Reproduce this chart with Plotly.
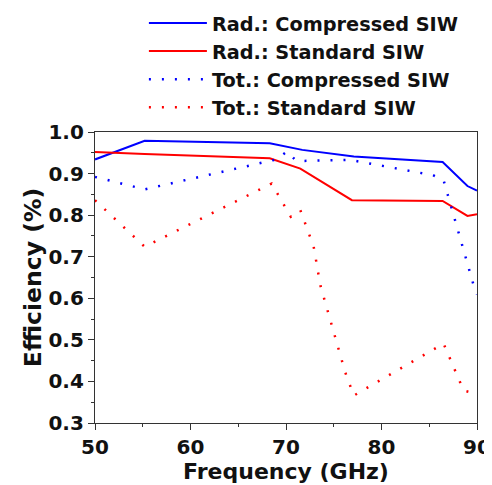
import plotly.graph_objects as go

rad_comp_f = [50, 55.2, 68.3, 70.1, 71.7, 77.1, 86.4, 89.0, 90]
rad_comp_e = [0.934, 0.979, 0.973, 0.965, 0.957, 0.941, 0.928, 0.870, 0.859]

rad_std_f = [50, 55.2, 68.3, 69.8, 71.5, 76.9, 86.4, 89.0, 90]
rad_std_e = [0.952, 0.947, 0.937, 0.925, 0.912, 0.836, 0.834, 0.798, 0.802]

tot_comp_f = [50, 55.2, 69.0, 70.1, 71.1, 76.7, 85.4, 86.5, 87.2, 88.7, 89.8, 90]
tot_comp_e = [0.892, 0.862, 0.934, 0.953, 0.930, 0.933, 0.896, 0.884, 0.828, 0.708, 0.619, 0.61]

tot_std_f = [50, 55.2, 68.5, 69.4, 70.5, 71.5, 72.9, 73.6, 75.1, 76.2, 77.1, 86.5, 88.6, 89.6, 90]
tot_std_e = [0.836, 0.724, 0.876, 0.840, 0.796, 0.812, 0.724, 0.631, 0.511, 0.422, 0.366, 0.491, 0.378, 0.372, 0.375]

x_ticks = [50, 60, 70, 80, 90]
y_ticks = [0.3, 0.4, 0.5, 0.6, 0.7, 0.8, 0.9, 1.0]

BLUE = "#0000ff"
RED = "#ff0000"
FONT = "DejaVu Sans, Liberation Sans, Arial, sans-serif"
TXT = "#111111"

fig = go.Figure()
fig.add_trace(go.Scatter(x=rad_comp_f, y=rad_comp_e, mode="lines", name="<b>Rad.: Compressed SIW</b>",
                         line=dict(color=BLUE, width=2)))
fig.add_trace(go.Scatter(x=rad_std_f, y=rad_std_e, mode="lines", name="<b>Rad.: Standard SIW</b>",
                         line=dict(color=RED, width=2)))
fig.add_trace(go.Scatter(x=tot_comp_f, y=tot_comp_e, mode="lines", name="<b>Tot.: Compressed SIW</b>",
                         line=dict(color=BLUE, width=2.5, dash="2px,11px")))
fig.add_trace(go.Scatter(x=tot_std_f, y=tot_std_e, mode="lines", name="<b>Tot.: Standard SIW</b>",
                         line=dict(color=RED, width=2.5, dash="2px,11px")))

axis_common = dict(
    showline=True, linecolor="#333333", linewidth=1.2, mirror=True,
    ticks="outside", ticklen=6, tickwidth=1.2, tickcolor="#333333",
    showgrid=False, zeroline=False,
    tickfont=dict(family=FONT, size=20, color=TXT),
)

# page body has an 8px default margin, so the figure is sized and offset to match
fig.update_layout(
    width=484, height=477,
    paper_bgcolor="white", plot_bgcolor="white",
    margin=dict(l=87, r=15, t=124, b=62, autoexpand=False),
    font=dict(family=FONT, color=TXT),
    xaxis=dict(range=[50, 90], tickvals=x_ticks, ticktext=[f"<b>{v}</b>" for v in x_ticks],
               title=dict(text="<b>Frequency (GHz)</b>", font=dict(family=FONT, size=22, color=TXT), standoff=2),
               minor=dict(tickvals=[55, 65, 75, 85], ticks="outside", ticklen=3, tickwidth=1, tickcolor="#333333"),
               **axis_common),
    yaxis=dict(range=[0.3, 1.0], tickvals=y_ticks, ticktext=[f"<b>{v:.1f}</b>" for v in y_ticks],
               title=dict(text="<b>Efficiency (%)</b>", font=dict(family=FONT, size=23.5, color=TXT), standoff=0),
               minor=dict(tickvals=[0.35, 0.45, 0.55, 0.65, 0.75, 0.85, 0.95], ticks="outside", ticklen=3,
                          tickwidth=1, tickcolor="#333333"),
               **axis_common),
    legend=dict(x=0.128, y=1.44, xanchor="left", yanchor="top",
                font=dict(family=FONT, size=19.3, color=TXT),
                bgcolor="rgba(0,0,0,0)", itemwidth=58, tracegroupgap=0),
    showlegend=True,
)

fig.write_html("out.html")
